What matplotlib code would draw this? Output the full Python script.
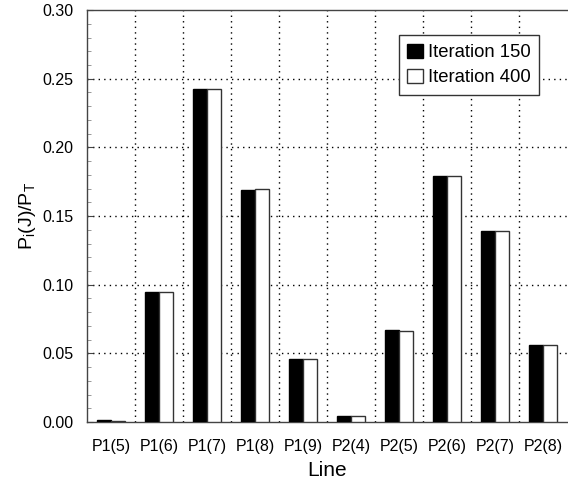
import matplotlib
matplotlib.use("Agg")
import matplotlib.pyplot as plt
import numpy as np
from matplotlib.ticker import MultipleLocator

plt.rcParams['font.family'] = ['Liberation Sans', 'DejaVu Sans']

categories = ["P1(5)", "P1(6)", "P1(7)", "P1(8)", "P1(9)", "P2(4)", "P2(5)", "P2(6)", "P2(7)", "P2(8)"]
iter150 = [0.0012, 0.0944, 0.2422, 0.1690, 0.0461, 0.0046, 0.0670, 0.1790, 0.1392, 0.0562]
iter400 = [0.0005, 0.0949, 0.2427, 0.1695, 0.0461, 0.0046, 0.0663, 0.1790, 0.1392, 0.0562]

fig = plt.figure(figsize=(5.68, 4.82), dpi=100)
ax = fig.add_axes([0.153, 0.1245, 0.846, 0.8545])

x = np.arange(len(categories))
w = 0.29
ax.bar(x - w/2, iter150, width=w, color='black', edgecolor='black', linewidth=1, label='Iteration 150', zorder=3)
ax.bar(x + w/2, iter400, width=w, color='white', edgecolor='#333333', linewidth=1, label='Iteration 400', zorder=3)

ax.set_xlim(-0.5, len(categories) - 0.5)
ax.set_ylim(0, 0.30)
ax.set_xticks(x)
ax.set_xticklabels(categories, fontsize=11.5)
ax.tick_params(axis='x', length=0, pad=12)
ax.yaxis.set_minor_locator(MultipleLocator(0.01))
ax.set_yticks(np.arange(0, 0.301, 0.05))
ax.set_yticklabels([f"{v:.2f}" for v in np.arange(0, 0.301, 0.05)], fontsize=11.5)
ax.tick_params(axis='y', which='major', direction='in', length=4, pad=10, color='#444444')
ax.tick_params(axis='y', which='minor', direction='in', length=3, color='#888888')

for b in np.arange(0.5, len(categories) - 0.5, 1.0):
    ax.axvline(b, color='black', linestyle=(0, (1, 3)), linewidth=1, zorder=1)
for v in np.arange(0.05, 0.30, 0.05):
    ax.axhline(v, color='black', linestyle=(0, (1, 3)), linewidth=1, zorder=1)

ax.spines['right'].set_visible(False)
for s in ['left', 'top', 'bottom']:
    ax.spines[s].set_color('#444444')
    ax.spines[s].set_linewidth(1)

ax.set_xlabel('Line', fontsize=15, labelpad=5)
ax.set_ylabel(r'P$_\mathregular{i}$(J)/P$_\mathregular{T}$', fontsize=14, labelpad=3)

leg = ax.legend(loc='upper left', bbox_to_anchor=(0.649, 0.939), fontsize=13.3,
                handlelength=0.85, handleheight=0.85, handletextpad=0.3,
                fancybox=False, framealpha=1, edgecolor='#333333', borderpad=0.45,
                labelspacing=0.4, borderaxespad=0)
leg.get_frame().set_linewidth(1)
leg.set_zorder(5)

fig.savefig('out.png', dpi=100)
